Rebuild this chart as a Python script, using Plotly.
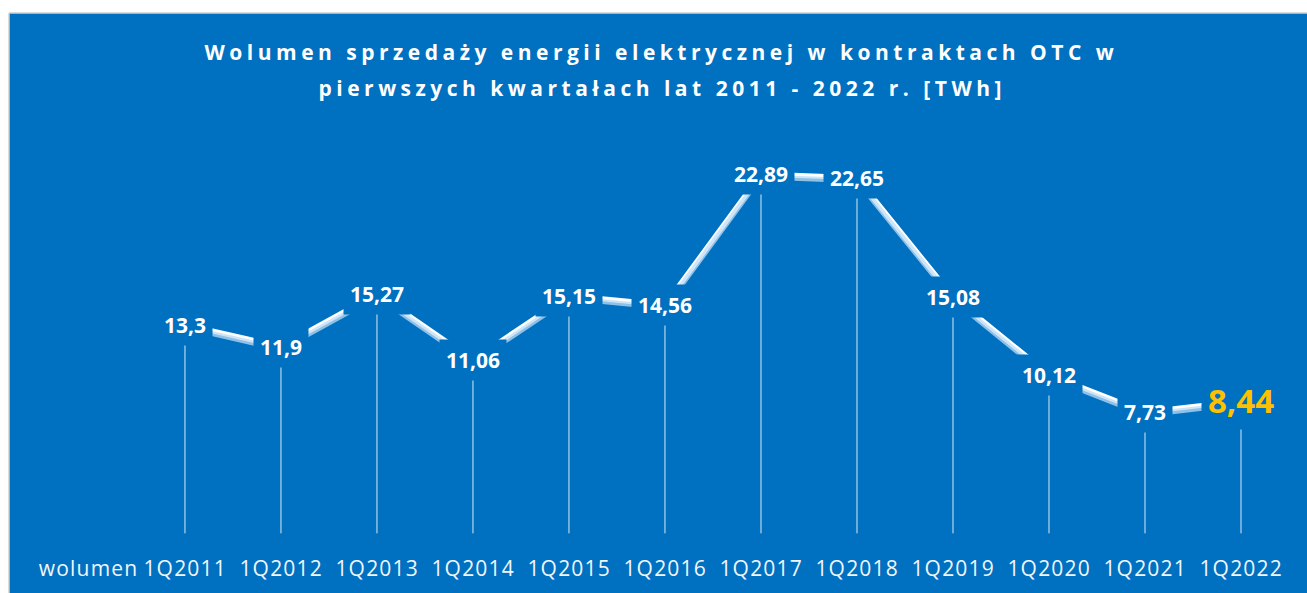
import plotly.graph_objects as go

categories = ["1Q2011", "1Q2012", "1Q2013", "1Q2014", "1Q2015", "1Q2016",
              "1Q2017", "1Q2018", "1Q2019", "1Q2020", "1Q2021", "1Q2022"]
values = [13.3, 11.9, 15.27, 11.06, 15.15, 14.56, 22.89, 22.65, 15.08, 10.12, 7.73, 8.44]
series_name = "wolumen"
title_lines = ["Wolumen sprzedaży energii elektrycznej w kontraktach OTC w",
               "pierwszych kwartałach lat 2011 - 2022 r. [TWh]"]

BLUE = "#0070C0"
FONT = "Open Sans"
Y_RANGE = [-3.80, 33.15]
SHADOW_SHIFT = 0.18  # axis units (~3 px) for the line's soft shadow
W, H, ML, MT = 1307, 593, 9, 13
PW, PH = W - ML, H - MT

fig = go.Figure()

# drop lines
dx, dy = [], []
for c, v in zip(categories, values):
    dx += [c, c, None]
    dy += [0, v, None]
fig.add_trace(go.Scatter(x=dx, y=dy, mode="lines",
                         line=dict(color="rgba(255,255,255,0.85)", width=1),
                         hoverinfo="skip", showlegend=False))

# shadow of the line (same data, drawn on a slightly shifted overlay axis)
fig.add_trace(go.Scatter(x=categories, y=values, mode="lines", yaxis="y2",
                         line=dict(color="rgba(190,220,245,0.75)", width=5),
                         hoverinfo="skip", showlegend=False))

# main line
fig.add_trace(go.Scatter(x=categories, y=values, mode="lines",
                         line=dict(color="white", width=5),
                         name=series_name, showlegend=False))

annotations = []
for i, (c, v) in enumerate(zip(categories, values)):
    last = i == len(values) - 1
    annotations.append(dict(
        x=c, y=v, xref="x", yref="y", text=str(v).replace(".", ","),
        xanchor="center", yanchor="middle",
        showarrow=False, bgcolor=BLUE, borderpad=6,
        font=dict(family=FONT, size=33 if last else 21,
                  color="#FFC000" if last else "white", weight="bold")))
    annotations.append(dict(
        x=c, y=0.043, xref="x", yref="paper", text=c, showarrow=False,
        xanchor="center", yanchor="middle",
        font=dict(family=FONT, size=21, color="#F2F6FB")))

annotations.append(dict(x=0.0609, y=0.043, xref="paper", yref="paper",
                        text=series_name, showarrow=False,
                        xanchor="center", yanchor="middle",
                        font=dict(family=FONT, size=21, color="#F2F6FB")))
annotations.append(dict(x=0.5027, y=0.933, xref="paper", yref="paper",
                        text=title_lines[0], showarrow=False,
                        xanchor="center", yanchor="middle",
                        font=dict(family=FONT, size=21, color="white", weight="bold")))
annotations.append(dict(x=0.5027, y=0.871, xref="paper", yref="paper",
                        text=title_lines[1], showarrow=False,
                        xanchor="center", yanchor="middle",
                        font=dict(family=FONT, size=21, color="white", weight="bold")))

top = 1 + MT / PH
left = -ML / PW
shapes = [
    dict(type="rect", xref="paper", yref="paper", x0=left, x1=1.05, y0=1, y1=top + 0.01,
         fillcolor="white", line=dict(width=0), layer="below"),
    dict(type="rect", xref="paper", yref="paper", x0=left - 0.01, x1=0, y0=-0.05, y1=top + 0.01,
         fillcolor="white", line=dict(width=0), layer="below"),
    dict(type="line", xref="paper", yref="paper", x0=0, x1=1.05, y0=1, y1=1,
         line=dict(color="#D0D0D0", width=1.5)),
    dict(type="line", xref="paper", yref="paper", x0=0, x1=0, y0=-0.05, y1=1,
         line=dict(color="#D0D0D0", width=1.5)),
]

fig.update_layout(
    width=W, height=H,
    margin=dict(l=ML, r=0, t=MT, b=0),
    paper_bgcolor=BLUE, plot_bgcolor=BLUE,
    xaxis=dict(type="category", range=[-1.833, 11.6875], showgrid=False,
               zeroline=False, showticklabels=False, showline=False),
    yaxis=dict(range=Y_RANGE, showgrid=False, zeroline=False,
               showticklabels=False, showline=False),
    yaxis2=dict(range=[Y_RANGE[0] + SHADOW_SHIFT, Y_RANGE[1] + SHADOW_SHIFT],
                overlaying="y", showgrid=False, zeroline=False,
                showticklabels=False, showline=False),
    annotations=annotations,
    shapes=shapes,
)

post = """
document.documentElement.style.background = '""" + BLUE + """';
document.body.style.margin = '0';
document.body.style.overflow = 'hidden';
document.body.style.background = '""" + BLUE + """';
var gd = document.getElementById('{plot_id}');
gd.querySelectorAll('text.annotation-text').forEach(function(t){
  var s = t.textContent;
  if (s.indexOf('Wolumen') === 0 || s.indexOf('pierwszych') === 0) {
    t.style.letterSpacing = '4.5px';
  } else if (s.indexOf('1Q') === 0 || s === 'wolumen') {
    t.style.letterSpacing = '1.2px';
  }
});
"""

fig.write_html("out.html", post_script=post, config={"displayModeBar": False})
